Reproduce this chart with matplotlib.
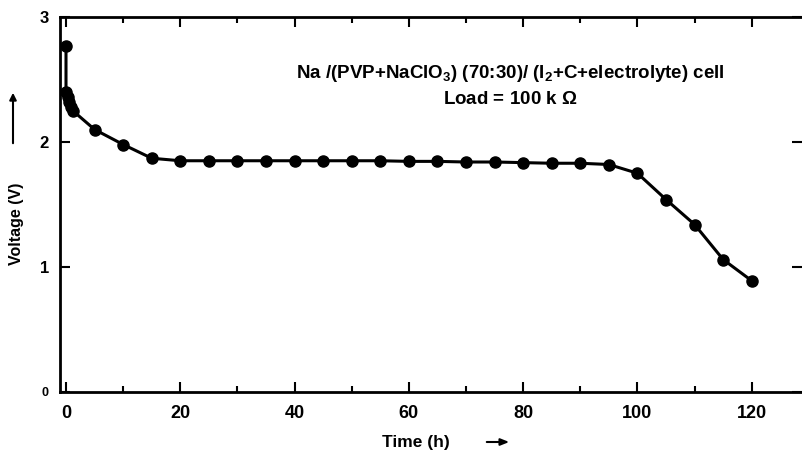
import matplotlib
matplotlib.use("Agg")
import matplotlib.pyplot as plt
from matplotlib.ticker import MultipleLocator

plt.rcParams["font.family"] = ["Liberation Sans", "DejaVu Sans"]
plt.rcParams["mathtext.fontset"] = "custom"
plt.rcParams["mathtext.rm"] = "Liberation Sans:bold"
plt.rcParams["mathtext.it"] = "Liberation Sans:bold"
plt.rcParams["mathtext.bf"] = "Liberation Sans:bold"

# discharge data
time_h = [0, 0, 0.3, 0.6, 0.9, 1.2, 5, 10, 15, 20, 25, 30, 35, 40, 45, 50, 55,
          60, 65, 70, 75, 80, 85, 90, 95, 100, 105, 110, 115, 120]
voltage = [2.77, 2.40, 2.36, 2.32, 2.28, 2.25, 2.10, 1.98, 1.87, 1.85, 1.85,
           1.85, 1.85, 1.85, 1.85, 1.85, 1.85, 1.845, 1.845, 1.84, 1.84, 1.835,
           1.83, 1.83, 1.82, 1.75, 1.54, 1.34, 1.06, 0.89]

x_ticks = [0, 20, 40, 60, 80, 100, 120]
y_ticks = [0, 1, 2, 3]

W, H = 802, 459
fig = plt.figure(figsize=(W / 100, H / 100), dpi=100)
fig.patch.set_facecolor("white")
ax = fig.add_axes([60 / W, 1 - 392 / H, (W - 60) / W, (392 - 17) / H])

ax.plot(time_h, voltage, "-", color="black", linewidth=2.2)
ax.plot(time_h, voltage, "o", color="black", markersize=8)

ax.set_xlim(-1.05, 128.8)
ax.set_ylim(0, 3)
ax.set_xticks(x_ticks)
ax.set_yticks(y_ticks)
ax.xaxis.set_minor_locator(MultipleLocator(10))
ax.spines["right"].set_visible(False)
for s in ["left", "bottom", "top"]:
    ax.spines[s].set_linewidth(2)
ax.tick_params(which="both", direction="in", top=True, right=True, width=1.5)
ax.tick_params(which="major", length=7)
ax.tick_params(which="minor", length=4)
ax.tick_params(axis="x", labelsize=13, pad=9)
ax.tick_params(axis="y", labelsize=12, pad=8)
for lab in ax.get_xticklabels() + ax.get_yticklabels():
    lab.set_fontweight("bold")
ax.get_yticklabels()[0].set_fontsize(9)

ax.text(0.607, 0.848, "Na /(PVP+NaClO$_3$) (70:30)/ (I$_2$+C+electrolyte) cell",
        transform=ax.transAxes, ha="center", va="center", fontsize=13.5,
        fontweight="bold")
ax.text(0.607, 0.781, "Load = 100 k $\\Omega$", transform=ax.transAxes,
        ha="center", va="center", fontsize=13.5, fontweight="bold")

fig.text(17 / W, 1 - 224 / H, "Voltage (V)", rotation=90, ha="center",
         va="center", fontsize=11.5, fontweight="bold")
fig.patches.append(matplotlib.patches.FancyArrowPatch(
    (13 / W, 1 - 146 / H), (13 / W, 1 - 90 / H), transform=fig.transFigure,
    arrowstyle="-|>,head_length=4,head_width=2", color="black", linewidth=1.5))

fig.text(416 / W, 1 - 442 / H, "Time (h)", ha="center", va="center",
         fontsize=12.5, fontweight="bold")
fig.patches.append(matplotlib.patches.FancyArrowPatch(
    (484 / W, 1 - 442 / H), (512 / W, 1 - 442 / H), transform=fig.transFigure,
    arrowstyle="-|>,head_length=5,head_width=2", color="black", linewidth=1.5))

fig.savefig("out.png", dpi=100)
